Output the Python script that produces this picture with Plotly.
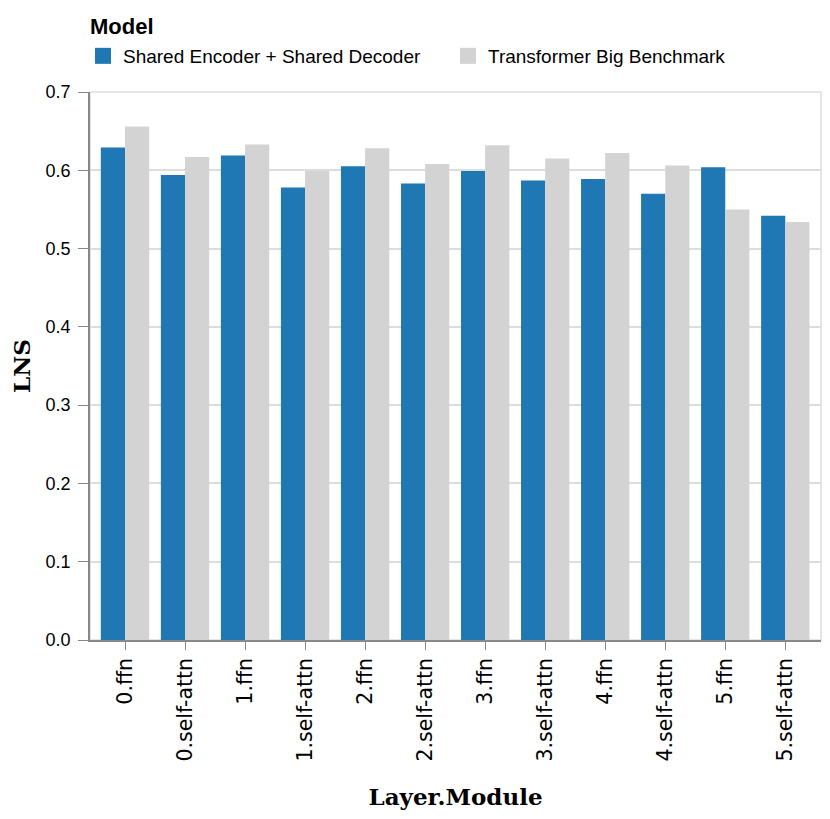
import plotly.graph_objects as go

# categories on the x axis
modules = ['0.ffn', '0.self-attn', '1.ffn', '1.self-attn', '2.ffn', '2.self-attn',
           '3.ffn', '3.self-attn', '4.ffn', '4.self-attn', '5.ffn', '5.self-attn']

# LNS values per model
shared_enc_dec = [0.629, 0.594, 0.619, 0.578, 0.605, 0.583, 0.599, 0.587, 0.589, 0.570, 0.604, 0.542]
transformer_big = [0.656, 0.617, 0.633, 0.599, 0.628, 0.608, 0.632, 0.615, 0.622, 0.606, 0.550, 0.534]

model_names = ['Shared Encoder + Shared Decoder', 'Transformer Big Benchmark']
model_colors = ['#1f77b4', '#d3d3d3']

y_ticks = [0.0, 0.1, 0.2, 0.3, 0.4, 0.5, 0.6, 0.7]

fig = go.Figure()
for name, vals, col in zip(model_names, [shared_enc_dec, transformer_big], model_colors):
    fig.add_trace(go.Bar(x=modules, y=vals, name=name, showlegend=False,
                         marker=dict(color=col, line=dict(width=0))))
    # bigger square swatch for the legend
    fig.add_trace(go.Scatter(x=[None], y=[None], mode='markers', name=name,
                             marker=dict(symbol='square', size=20, color=col)))

narrow = 'Liberation Sans'
titlefont = dict(family='DejaVu Serif, Liberation Serif', size=23, color='black')

# page body has an 8px margin, so margins are shifted by 8px
fig.update_layout(
    width=830, height=819,
    barmode='group', bargap=0.195, bargroupgap=0,
    plot_bgcolor='white', paper_bgcolor='white',
    margin=dict(l=82, r=17, t=84, b=187, autoexpand=False),
    legend=dict(orientation='h', x=-0.0096, y=1.0657, xanchor='left', yanchor='middle',
                font=dict(family=narrow, size=19, color='black'),
                itemsizing='trace', traceorder='normal', itemwidth=30,
                entrywidth=320, entrywidthmode='pixels',
                bgcolor='rgba(0,0,0,0)'),
    xaxis=dict(title=dict(text='<b>Layer.Module</b>', font=titlefont, standoff=28),
               tickangle=-90, tickfont=dict(family='DejaVu Sans', size=20.5, color='black'),
               range=[-0.583, 11.595],
               showline=True, linecolor='#888', linewidth=1.5,
               ticks='outside', ticklen=8, tickcolor='#888',
               showgrid=False),
    yaxis=dict(title=dict(text='<b>LNS</b>', font=titlefont, standoff=16),
               range=[0, 0.7], tickvals=y_ticks, tickformat='.1f',
               tickfont=dict(family=narrow, size=18, color='black'),
               showline=True, linecolor='#888', linewidth=1.5,
               ticks='outside', ticklen=10, tickcolor='#888', ticklabelstandoff=4,
               gridcolor='#ddd', gridwidth=1.5, zeroline=False),
    annotations=[dict(text='<b>Model</b>', xref='paper', yref='paper', x=-0.003, y=1.119,
                      xanchor='left', yanchor='middle', showarrow=False,
                      font=dict(family=narrow, size=22, color='black'))],
)

# light frame around the plotting area
fig.add_shape(type='rect', xref='paper', yref='paper', x0=0, y0=0, x1=1, y1=1,
              line=dict(color='#ddd', width=1.5), layer='below')

fig.write_html("out.html")
